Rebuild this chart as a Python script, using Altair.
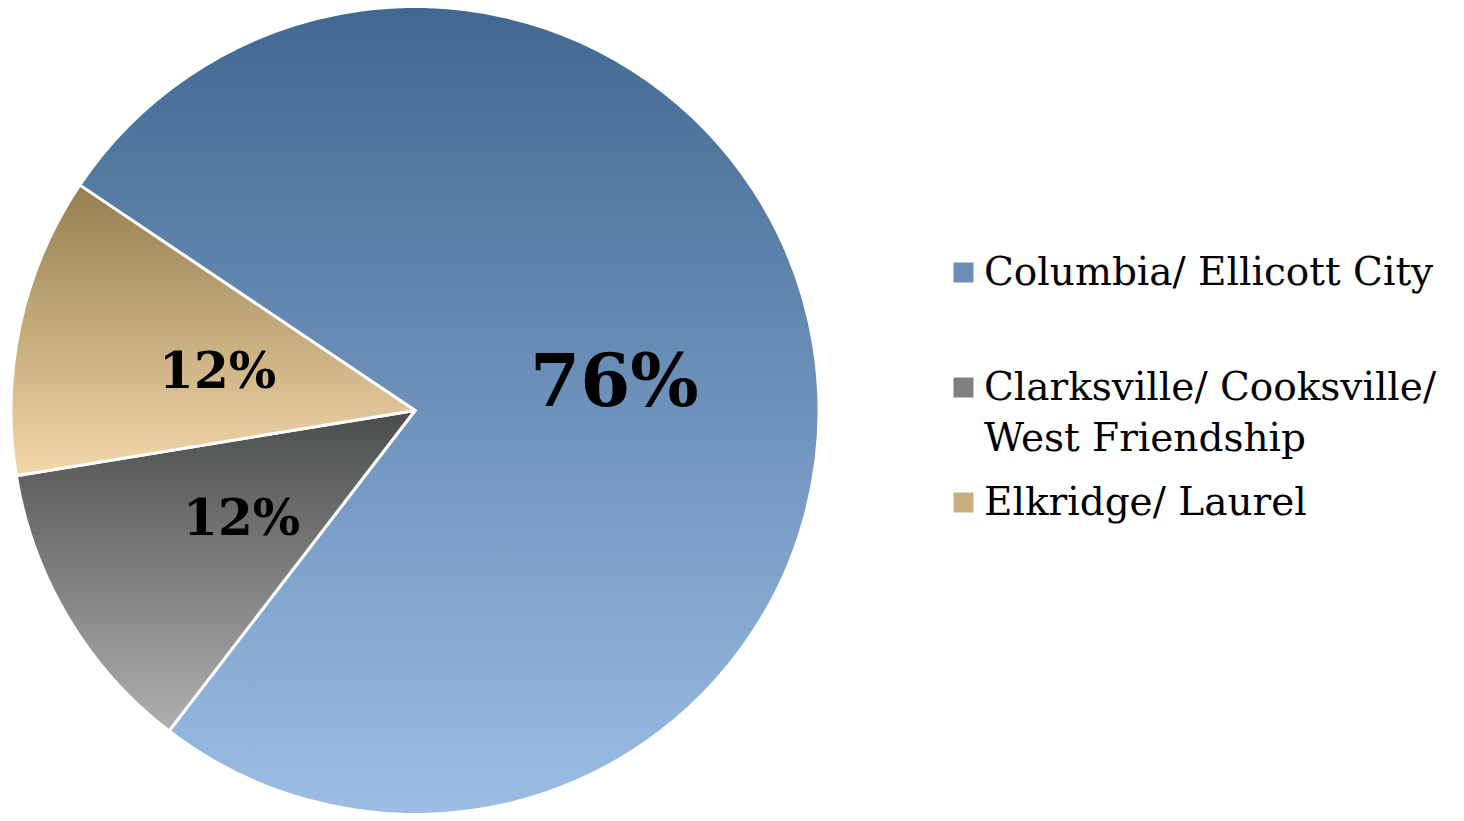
import altair as alt
import pandas as pd

# ---- data ----
regions = ["Columbia/ Ellicott City", "Clarksville/ Cooksville/ West Friendship", "Elkridge/ Laurel"]
shares = [76, 12, 12]
pct_labels = ["76%", "12%", "12%"]
order = [0, 1, 2]

df = pd.DataFrame({"region": regions, "share": shares, "pct": pct_labels, "order": order})

START = -0.979  # radians, start angle of the first slice
TWO_PI = 6.283185307

legend_colors = ["#6b8fb8", "#7f8180", "#c8ad7f"]
gradients = [
    {"gradient": "linear", "x1": 0, "y1": 0, "x2": 0, "y2": 1,
     "stops": [{"offset": 0, "color": "#416890"}, {"offset": 1, "color": "#9bbde6"}]},
    {"gradient": "linear", "x1": 0, "y1": 0, "x2": 0, "y2": 1,
     "stops": [{"offset": 0, "color": "#4a4e4b"}, {"offset": 1, "color": "#afafaf"}]},
    {"gradient": "linear", "x1": 0, "y1": 0, "x2": 0, "y2": 1,
     "stops": [{"offset": 0, "color": "#967e50"}, {"offset": 1, "color": "#f3d8a8"}]},
]

theta_scale = alt.Scale(domain=[0, 100], range=[START, START + TWO_PI])

base = (
    alt.Chart(df)
    .transform_window(cum="sum(share)", sort=[alt.SortField("order")])
    .transform_calculate(start="datum.cum - datum.share",
                         mid="datum.cum - datum.share / 2")
)

color_enc = alt.Color(
    "region:N",
    scale=alt.Scale(domain=regions, range=legend_colors),
    legend=alt.Legend(
        title=None,
        orient="none",
        legendX=936,
        legendY=245,
        symbolType="square",
        symbolSize=400,
        symbolStrokeWidth=0,
        symbolOpacity=1,
        labelFont="DejaVu Serif",
        labelFontSize=39,
        labelColor="black",
        labelLimit=700,
        labelOffset=1,
        rowPadding=24,
        padding=0,
        labelExpr="datum.label == 'Clarksville/ Cooksville/ West Friendship' ? ['Clarksville/ Cooksville/', 'West Friendship'] : [datum.label, '']",
    ),
)

layers = []
for i in range(3):
    layers.append(
        base.transform_filter(alt.datum.order == i)
        .mark_arc(outerRadius=404, stroke="white", strokeWidth=3, strokeJoin="round")
        .encode(
            theta=alt.Theta("start:Q", scale=theta_scale),
            theta2="cum:Q",
            fill=alt.value(gradients[i]),
        )
    )

legend_layer = base.mark_arc(outerRadius=0, innerRadius=0).encode(
    theta=alt.Theta("start:Q", scale=theta_scale),
    theta2="cum:Q",
    color=color_enc,
)

text = base.mark_text(radius=202, dy=6, font="DejaVu Serif", fontWeight="bold", color="black").encode(
    theta=alt.Theta("mid:Q", scale=theta_scale),
    text="pct:N",
    size=alt.condition("datum.share > 50", alt.value(72), alt.value(50)),
)

chart = (
    alt.layer(*layers, legend_layer, text)
    .properties(
        width=814,
        height=805,
        padding={"top": 0, "left": 0, "right": 634, "bottom": 0},
        autosize=alt.AutoSizeParams(type="none"),
    )
    .configure_view(stroke=None)
    .configure(style={"guide-label": {"lineHeight": 51}})
)

chart.save("out.html", embed_options={"renderer": "svg", "actions": False})
